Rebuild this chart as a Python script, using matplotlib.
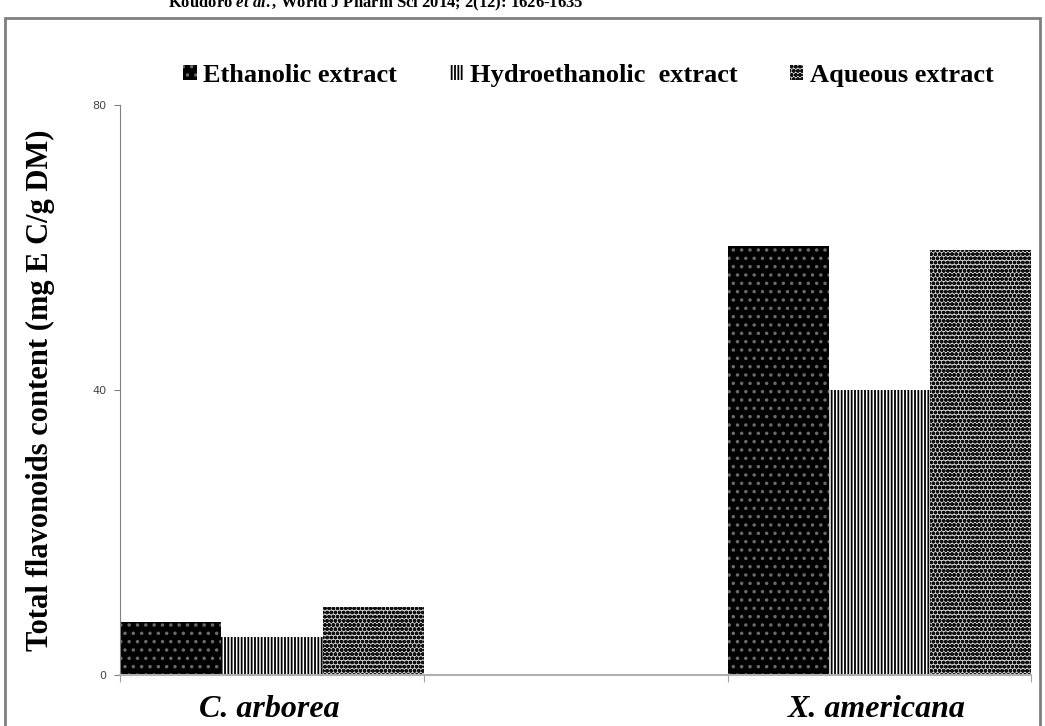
import matplotlib
matplotlib.use('Agg')
import matplotlib.pyplot as plt
from matplotlib.patches import Rectangle
import numpy as np

plants = ['C. arborea', 'X. americana']
extracts = ['Ethanolic extract', 'Hydroethanolic  extract', 'Aqueous extract']
ethanolic = [7.4, 60.2]
hydroethanolic = [5.3, 40.0]
aqueous = [9.5, 59.6]
yticks = [0, 40, 80]

plt.rcParams['font.family'] = ['Liberation Serif', 'DejaVu Serif']
plt.rcParams['mathtext.fontset'] = 'custom'
plt.rcParams['mathtext.it'] = 'Liberation Serif:italic:bold'
plt.rcParams['mathtext.rm'] = 'Liberation Serif:bold'
plt.rcParams['hatch.linewidth'] = 1.3

fig = plt.figure(figsize=(10.45, 7.26), dpi=100)
ax = fig.add_axes([0.115, 0.0702, 0.872, 0.785])

# frame around the figure, as in the page scan
fig.patches.append(Rectangle((5 / 1045, -0.01), 1035 / 1045, 1 - 18 / 726 + 0.01,
                             transform=fig.transFigure, fill=False,
                             edgecolor='#808080', linewidth=2))
fig.text(0.36, 0.995, 'Koudoro $et\\ al.$, World J Pharm Sci 2014; 2(12): 1626-1635',
         ha='center', va='center', fontsize=12, fontweight='bold')

x = np.array([0, 2])
w = 1 / 3
styles = [
    dict(facecolor='black', edgecolor='#6a6a6a', hatch='..'),
    dict(facecolor='white', edgecolor='black', hatch='|||||'),
    dict(facecolor='#d4d4d4', edgecolor='#111111', hatch='oooo'),
]
series = [ethanolic, hydroethanolic, aqueous]
for i, (vals, st) in enumerate(zip(series, styles)):
    ax.bar(x - 0.5 + w * i + w / 2, vals, width=w, linewidth=0, label=extracts[i], **st)

ax.set_xlim(-0.5, 2.5)
ax.set_ylim(0, 80)
ax.set_yticks(yticks)
ax.set_yticklabels([str(t) for t in yticks], family='Liberation Sans Narrow', color='#444444')
ax.tick_params(axis='y', length=4, width=0.8, color='#808080', labelsize=8, pad=6)
ax.set_xticks([-0.5, 0.5, 1.5, 2.5])
ax.tick_params(axis='x', length=5, width=0.8, color='#a0a0a0', labelbottom=False, direction='out')
for s in ['top', 'right']:
    ax.spines[s].set_visible(False)
ax.spines['left'].set_color('#808080')
ax.spines['bottom'].set_color('#b0b0b0')
ax.spines['bottom'].set_linewidth(1.5)

for xi, name in zip(x, plants):
    ax.text(xi - 0.01, -0.035, name, transform=ax.get_xaxis_transform(), ha='center', va='top',
            fontsize=23, fontweight='bold', style='italic')

fig.text(0.039, 0.463, 'Total flavonoids content (mg E C/g DM)', rotation=90, ha='center', va='center',
         fontsize=22, fontweight='bold')

leg = ax.legend(loc='lower center', bbox_to_anchor=(0.514, 0.99), ncol=3, frameon=False,
                prop={'size': 19, 'weight': 'bold'}, handlelength=0.5, handleheight=0.5,
                handletextpad=0.25, columnspacing=2.0)

fig.savefig('out.png', dpi=100)
